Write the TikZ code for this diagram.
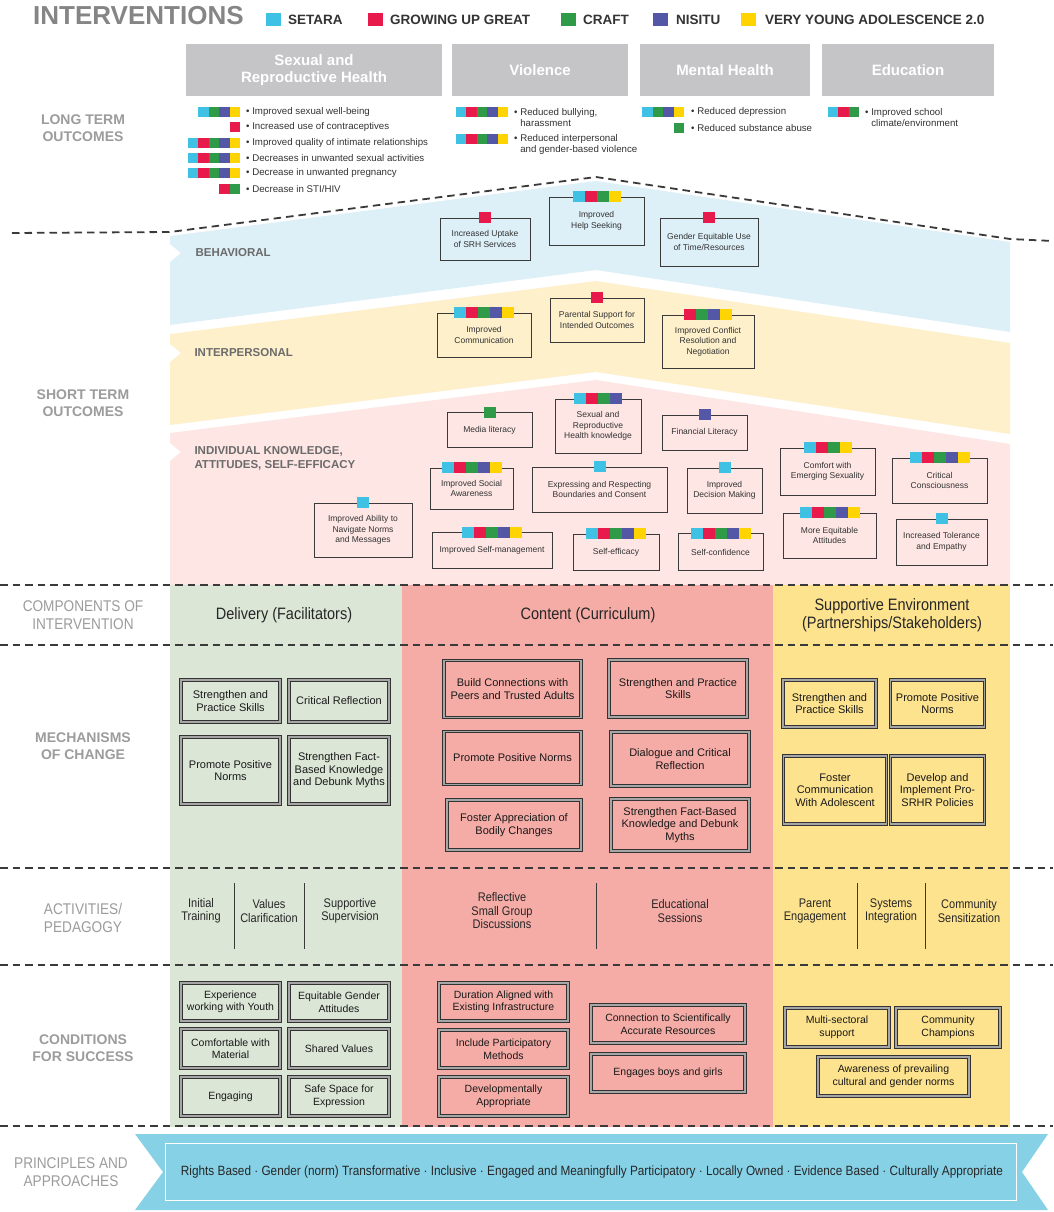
\documentclass[tikz,border=0pt]{standalone}
\usepackage{fontspec}
\setmainfont{Liberation Sans}
\newfontfamily\narrowfont[FakeStretch=0.88]{Liberation Sans}
\usetikzlibrary{calc,positioning}

\definecolor{scyan}{HTML}{3FC1E3}
\definecolor{sred}{HTML}{E8194B}
\definecolor{sgreen}{HTML}{2F9A48}
\definecolor{spurple}{HTML}{5457A6}
\definecolor{syellow}{HTML}{FFD400}
\definecolor{labgray}{HTML}{9C9C9C}
\definecolor{titlegray}{HTML}{858585}
\definecolor{headgray}{HTML}{C5C5C7}
\definecolor{behfill}{HTML}{DDEFF7}
\definecolor{intfill}{HTML}{FDF0CB}
\definecolor{indfill}{HTML}{FDE6E3}
\definecolor{delfill}{HTML}{DCE6D7}
\definecolor{confill}{HTML}{F5ACA7}
\definecolor{envfill}{HTML}{FDE38E}
\definecolor{ribfill}{HTML}{87D1E7}
\definecolor{inkgray}{HTML}{3A3A3A}

\newcommand{\colbar}[3]{%
  \foreach \col [count=\i] in {#3}
    \fill[\col] ($(#1)+({(\i-1-#2/2)*12},-5.5)$) rectangle ++(12,11);}
\newcommand{\rowbar}[3]{%
  \foreach \col [count=\i] in {#3}
    \fill[\col] ($#1+({(\i-1-#2)*10.5},-4.75)$) rectangle ++(10.5,9.5);}

\begin{document}
\begin{tikzpicture}[x=1pt, y=-1pt,
    lab/.style={font=\bfseries\fontsize{14}{17}\selectfont, text=labgray, align=center},
    nlab/.style={font=\narrowfont\fontsize{15.5}{18}\selectfont, text=labgray, align=center},
    bandlab/.style={anchor=west, align=left, font=\bfseries\fontsize{11.5}{14}\selectfont, text=black!58},
    headbox/.style={fill=headgray, text=white, align=center, font=\bfseries\fontsize{15}{17}\selectfont, minimum height=52},
    leg/.style={anchor=west, font=\bfseries\fontsize{13.5}{16}\selectfont, text=black!80, inner sep=0pt},
    outitem/.style={anchor=west, align=left, inner sep=0pt, font=\fontsize{9.7}{11.5}\selectfont, text=black!80},
    obox/.style={draw=inkgray, line width=0.7pt, align=center, inner sep=1pt, font=\fontsize{8.5}{10.5}\selectfont, text=black!80},
    mbox/.style={draw=black!80, double=black!35, double distance=1.1pt, line width=1pt, align=center, inner sep=1pt, font=\fontsize{11}{12.5}\selectfont, text=black!90},
    cbox/.style={mbox, font=\fontsize{10.5}{12.5}\selectfont},
    comp/.style={align=center, font=\narrowfont\fontsize{16.5}{17.5}\selectfont, text=black!85},
    act/.style={align=center, font=\narrowfont\fontsize{12.5}{13.5}\selectfont, text=black!85},
    divider/.style={draw=inkgray, line width=1.8pt, dash pattern=on 7.5pt off 5pt},
    sepline/.style={draw=inkgray, line width=1pt}
]
\fill[white] (0,0) rectangle (1053,1212);
\useasboundingbox (0,0) rectangle (1053,1212);

\node[anchor=west, inner sep=0pt, font=\bfseries\fontsize{26}{28}\selectfont, text=titlegray] (title) at (33,16) {INTERVENTIONS};
\fill[scyan] (266,13) rectangle (281,26);
\node[leg] (lsetara) at (288,19.5) {SETARA};
\fill[sred] (368,13) rectangle (383,26);
\node[leg] (lgug) at (390,19.5) {GROWING UP GREAT};
\fill[sgreen] (561,13) rectangle (576,26);
\node[leg] (lcraft) at (583,19.5) {CRAFT};
\fill[spurple] (653,13) rectangle (668,26);
\node[leg] (lnisitu) at (676,19.5) {NISITU};
\fill[syellow] (741,13) rectangle (756,26);
\node[leg] (lvya) at (765,19.5) {VERY YOUNG ADOLESCENCE 2.0};

\node[headbox, minimum width=256] (hsrh) at (314,70) {Sexual and\\Reproductive Health};
\node[headbox, minimum width=176] (hviol) at (540,70) {Violence};
\node[headbox, minimum width=170] (hmental) at (725,70) {Mental Health};
\node[headbox, minimum width=172] (hedu) at (908,70) {Education};

\node[lab] (longterm) at (83,128) {LONG TERM\\OUTCOMES};
\rowbar{(240,112)}{4}{scyan,sgreen,spurple,syellow}
\node[outitem] (lt1) at (246,112) {• Improved sexual well-being};
\rowbar{(240,127)}{1}{sred}
\node[outitem] (lt2) at (246,127) {• Increased use of contraceptives};
\rowbar{(240,143)}{5}{scyan,sred,sgreen,spurple,syellow}
\node[outitem] (lt3) at (246,143) {• Improved quality of intimate relationships};
\rowbar{(240,158)}{5}{scyan,sred,sgreen,spurple,syellow}
\node[outitem] (lt4) at (246,158) {• Decreases in unwanted sexual activities};
\rowbar{(240,173)}{5}{scyan,sred,sgreen,spurple,syellow}
\node[outitem] (lt5) at (246,173) {• Decrease in unwanted pregnancy};
\rowbar{(240,189)}{2}{sred,sgreen}
\node[outitem] (lt6) at (246,189) {• Decrease in STI/HIV};
\rowbar{(508,112)}{5}{scyan,sred,sgreen,spurple,syellow}
\node[outitem] (lv1) at (514,117.5) {• Reduced bullying,\\\phantom{• }harassment};
\rowbar{(508,139)}{5}{scyan,sred,sgreen,spurple,syellow}
\node[outitem] (lv2) at (514,144.5) {• Reduced interpersonal\\\phantom{• }and gender-based violence};
\rowbar{(684,112)}{4}{scyan,sgreen,spurple,syellow}
\node[outitem] (lm1) at (691,112) {• Reduced depression};
\rowbar{(684,128)}{1}{sgreen}
\node[outitem] (lm2) at (691,128) {• Reduced substance abuse};
\rowbar{(859,112)}{3}{scyan,sred,sgreen}
\node[outitem] (le1) at (865,117.5) {• Improved school\\\phantom{• }climate/environment};

\fill[behfill] (170,236) -- (596,181) -- (1010,242) -- (1010,332) -- (596,270) -- (170,325) -- (170,262) -- (181,253) -- (170,244) -- cycle;
\fill[intfill] (170,334) -- (596,281) -- (1010,343) -- (1010,434) -- (596,372) -- (170,425) -- (170,362) -- (181,353) -- (170,344) -- cycle;
\fill[indfill] (170,433) -- (596,380) -- (1010,444) -- (1010,585) -- (170,585) -- (170,461) -- (181,452) -- (170,443) -- cycle;
\draw[divider] (12,233) -- (170,232) -- (596,177) -- (1010,239) -- (1053,241);

\node[lab] (shortterm) at (83,403) {SHORT TERM\\OUTCOMES};
\node[bandlab] (behav) at (192,253) {BEHAVIORAL};
\node[bandlab] (inter) at (191,353) {INTERPERSONAL};
\node[bandlab] (indiv) at (191,458) {INDIVIDUAL KNOWLEDGE,\\ATTITUDES, SELF-EFFICACY};

\node[obox, minimum width=90, minimum height=42] (uptake) at (485,239) {Increased Uptake\\of SRH Services};
\colbar{uptake.north}{1}{sred}
\node[obox, minimum width=95, minimum height=48] (helpseek) at (596.5,221) {Improved\\Help Seeking};
\colbar{helpseek.north}{4}{scyan,sred,sgreen,syellow}
\node[obox, minimum width=98, minimum height=48] (equitime) at (709,242) {Gender Equitable Use\\of Time/Resources};
\colbar{equitime.north}{1}{sred}

\node[obox, minimum width=94, minimum height=44] (comm) at (484,335) {Improved\\Communication};
\colbar{comm.north}{5}{scyan,sred,sgreen,spurple,syellow}
\node[obox, minimum width=94, minimum height=44] (parental) at (597,320) {Parental Support for\\Intended Outcomes};
\colbar{parental.north}{1}{sred}
\node[obox, minimum width=92, minimum height=53] (conflict) at (708,341.5) {Improved Conflict\\Resolution and\\Negotiation};
\colbar{conflict.north}{4}{sred,sgreen,spurple,syellow}

\node[obox, minimum width=85, minimum height=35] (media) at (489.5,430) {Media literacy};
\colbar{media.north}{1}{sgreen}
\node[obox, minimum width=86, minimum height=54] (srhk) at (598,426) {Sexual and\\Reproductive\\Health knowledge};
\colbar{srhk.north}{4}{scyan,sred,sgreen,spurple}
\node[obox, minimum width=85, minimum height=35] (finlit) at (704.5,432.5) {Financial Literacy};
\colbar{finlit.north}{1}{spurple}
\node[obox, minimum width=83, minimum height=41] (social) at (471.5,488.5) {Improved Social\\Awareness};
\colbar{social.north}{5}{scyan,sred,sgreen,spurple,syellow}
\node[obox, minimum width=135, minimum height=45] (bound) at (599.5,489.5) {Expressing and Respecting\\Boundaries and Consent};
\colbar{bound.north}{1}{scyan}
\node[obox, minimum width=75, minimum height=45] (decide) at (724.5,490.5) {Improved\\Decision Making};
\colbar{decide.north}{1}{scyan}
\node[obox, minimum width=95, minimum height=47] (comfort) at (827.5,471.5) {Comfort with\\Emerging Sexuality};
\colbar{comfort.north}{4}{scyan,sred,sgreen,syellow}
\node[obox, minimum width=95, minimum height=45] (critcon) at (939.5,480.5) {Critical\\Consciousness};
\colbar{critcon.north}{5}{scyan,sred,sgreen,spurple,syellow}
\node[obox, minimum width=98, minimum height=54] (navigate) at (363,530) {Improved Ability to\\Navigate Norms\\and Messages};
\colbar{navigate.north}{1}{scyan}
\node[obox, minimum width=120, minimum height=36] (selfman) at (492,550.5) {Improved Self-management};
\colbar{selfman.north}{5}{scyan,sred,sgreen,spurple,syellow}
\node[obox, minimum width=86, minimum height=36] (selfeff) at (616,552) {Self-efficacy};
\colbar{selfeff.north}{5}{scyan,sred,sgreen,spurple,syellow}
\node[obox, minimum width=85, minimum height=37] (selfconf) at (720.5,552) {Self-confidence};
\colbar{selfconf.north}{5}{scyan,sred,sgreen,spurple,syellow}
\node[obox, minimum width=93, minimum height=45] (equiatt) at (829.5,535.5) {More Equitable\\Attitudes};
\colbar{equiatt.north}{5}{scyan,sred,sgreen,spurple,syellow}
\node[obox, minimum width=91, minimum height=46] (toler) at (941.5,542) {Increased Tolerance\\and Empathy};
\colbar{toler.north}{1}{scyan}

\fill[delfill] (170,585) rectangle (402,1127);
\fill[confill] (402,585) rectangle (773,1127);
\fill[envfill] (773,585) rectangle (1010,1127);
\foreach \yy in {585,645,868,965,1126}
  \draw[divider] (0,\yy) -- (1053,\yy);

\node[nlab] (components) at (83,615) {COMPONENTS OF\\INTERVENTION};
\node[comp] (delivery) at (284,615) {Delivery (Facilitators)};
\node[comp] (content) at (588,615) {Content (Curriculum)};
\node[comp] (environ) at (892,615) {Supportive Environment\\(Partnerships/Stakeholders)};

\node[lab] (mechanisms) at (83,746) {MECHANISMS\\OF CHANGE};
\node[mbox, minimum width=99, minimum height=42] (dskills) at (230.5,701) {Strengthen and\\Practice Skills};
\node[mbox, minimum width=100, minimum height=42] (dreflect) at (339,701) {Critical Reflection};
\node[mbox, minimum width=99, minimum height=67] (dnorms) at (230.5,770.5) {Promote Positive\\Norms};
\node[mbox, minimum width=100, minimum height=67] (dfacts) at (339,770.5) {Strengthen Fact-\\Based Knowledge\\and Debunk Myths};
\node[mbox, minimum width=137, minimum height=57] (cconnect) at (512.5,689) {Build Connections with\\Peers and Trusted Adults};
\node[mbox, minimum width=138, minimum height=57] (cskills) at (678,688.5) {Strengthen and Practice\\Skills};
\node[mbox, minimum width=137, minimum height=53] (cnorms) at (512.5,758) {Promote Positive Norms};
\node[mbox, minimum width=138, minimum height=54] (cdialog) at (680,759) {Dialogue and Critical\\Reflection};
\node[mbox, minimum width=134, minimum height=50] (cbody) at (514,825) {Foster Appreciation of\\Bodily Changes};
\node[mbox, minimum width=138, minimum height=52] (cfacts) at (680,825) {Strengthen Fact-Based\\Knowledge and Debunk\\Myths};
\node[mbox, minimum width=93, minimum height=47] (eskills) at (829.5,703.5) {Strengthen and\\Practice Skills};
\node[mbox, minimum width=94, minimum height=47] (enorms) at (937.5,703.5) {Promote Positive\\Norms};
\node[mbox, minimum width=103, minimum height=68] (ecomm) at (835,790) {Foster\\Communication\\With Adolescent};
\node[mbox, minimum width=94, minimum height=68] (epolicy) at (937.5,790) {Develop and\\Implement Pro-\\SRHR Policies};

\node[nlab] (activities) at (83,918) {ACTIVITIES/\\PEDAGOGY};
\node[act] (atrain) at (201,911) {Initial\\Training};
\node[act] (avalues) at (269,911) {Values\\Clarification};
\node[act] (asuper) at (350,911) {Supportive\\Supervision};
\node[act] (agroup) at (502,911) {Reflective\\Small Group\\Discussions};
\node[act] (asess) at (680,911) {Educational\\Sessions};
\node[act] (aparent) at (815,911) {Parent\\Engagement};
\node[act] (asystem) at (891,911) {Systems\\Integration};
\node[act] (acommun) at (969,911) {Community\\Sensitization};
\foreach \xx in {234,304,596,857,925}
  \draw[sepline] (\xx,883) -- (\xx,949);

\node[lab] (conditions) at (83,1048) {CONDITIONS\\FOR SUCCESS};
\node[cbox, minimum width=99, minimum height=38] (dyouth) at (230.5,1002) {Experience\\working with Youth};
\node[cbox, minimum width=100, minimum height=38] (dgender) at (339,1002) {Equitable Gender\\Attitudes};
\node[cbox, minimum width=99, minimum height=39] (dmaterial) at (230.5,1048.5) {Comfortable with\\Material};
\node[cbox, minimum width=100, minimum height=39] (dvalues) at (339,1048.5) {Shared Values};
\node[cbox, minimum width=99, minimum height=39] (dengage) at (230.5,1096.5) {Engaging};
\node[cbox, minimum width=100, minimum height=39] (dspace) at (339,1096.5) {Safe Space for\\Expression};
\node[cbox, minimum width=129, minimum height=38] (cduration) at (503.5,1002) {Duration Aligned with\\Existing Infrastructure};
\node[cbox, minimum width=129, minimum height=38] (cmethods) at (503.5,1049) {Include Participatory\\Methods};
\node[cbox, minimum width=129, minimum height=39] (cdevelop) at (503.5,1096.5) {Developmentally\\Appropriate};
\node[cbox, minimum width=154, minimum height=38] (cresource) at (668,1024) {Connection to Scientifically\\Accurate Resources};
\node[cbox, minimum width=154, minimum height=38] (cboys) at (668,1073) {Engages boys and girls};
\node[cbox, minimum width=104, minimum height=39] (emulti) at (837,1027.5) {Multi-sectoral\\support};
\node[cbox, minimum width=104, minimum height=39] (echamp) at (948,1027.5) {Community\\Champions};
\node[cbox, minimum width=151, minimum height=39] (eaware) at (893.5,1076.5) {Awareness of prevailing\\cultural and gender norms};

\fill[ribfill] (135,1134) -- (1048,1134) -- (1022,1172) -- (1048,1210) -- (135,1210) -- (163,1172) -- cycle;
\draw[white, line width=0.8pt] (165,1143) rectangle (1016,1200);
\node[nlab] (principles) at (71,1172) {PRINCIPLES AND\\APPROACHES};
\node[act, font=\narrowfont\fontsize{13.4}{14}\selectfont] (princlist) at (592,1172) {Rights Based · Gender (norm) Transformative · Inclusive · Engaged and Meaningfully Participatory · Locally Owned · Evidence Based · Culturally Appropriate};
\end{tikzpicture}
\end{document}
